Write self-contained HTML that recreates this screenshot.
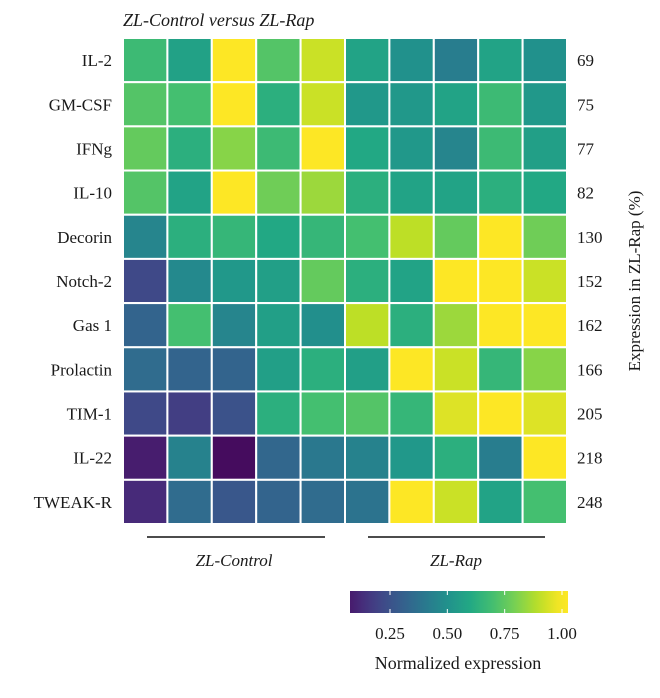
<!DOCTYPE html>
<html><head><meta charset="utf-8"><style>
body{margin:0;background:#fff;}
svg text{font-family:"Liberation Serif",serif;fill:#1a1a1a;}
</style></head><body>
<svg id="chart" width="660" height="693">
<defs><linearGradient id="vg" x1="0" x2="1" y1="0" y2="0"></linearGradient></defs>
<text x="123" y="26" font-size="18" font-style="italic">ZL-Control versus ZL-Rap</text>
<g id="cells"></g>
<g id="rowlabels"></g>
<g id="pctlabels"></g>
<text transform="translate(640,281) rotate(-90)" text-anchor="middle" font-size="17">Expression in ZL-Rap (%)</text>
<line x1="147" x2="325" y1="537" y2="537" stroke="#111" stroke-width="1.5"/>
<line x1="368" x2="545" y1="537" y2="537" stroke="#111" stroke-width="1.5"/>
<text x="234" y="566" text-anchor="middle" font-size="17" font-style="italic">ZL-Control</text>
<text x="456" y="566" text-anchor="middle" font-size="17" font-style="italic">ZL-Rap</text>
<rect x="350" y="591" width="218" height="22" fill="url(#vg)"/>
<g id="cbticks"></g>
<text x="458" y="669" text-anchor="middle" font-size="18">Normalized expression</text>
</svg>
<script>
const genes = ["IL-2","GM-CSF","IFNg","IL-10","Decorin","Notch-2","Gas 1","Prolactin","TIM-1","IL-22","TWEAK-R"];
const percents = [69,75,77,82,130,152,162,166,205,218,248];
const values = [
[0.68,0.57,1.00,0.73,0.92,0.58,0.50,0.42,0.58,0.50],
[0.73,0.70,1.00,0.63,0.92,0.53,0.53,0.58,0.68,0.53],
[0.76,0.63,0.82,0.68,1.00,0.60,0.53,0.45,0.68,0.56],
[0.73,0.58,1.00,0.78,0.85,0.63,0.58,0.58,0.63,0.60],
[0.45,0.63,0.66,0.60,0.66,0.70,0.90,0.76,1.00,0.78],
[0.22,0.47,0.53,0.56,0.76,0.63,0.58,1.00,1.00,0.92],
[0.32,0.70,0.45,0.56,0.49,0.90,0.63,0.85,1.00,1.00],
[0.35,0.32,0.32,0.56,0.63,0.56,1.00,0.92,0.66,0.82],
[0.22,0.18,0.25,0.63,0.70,0.73,0.66,0.95,1.00,0.95],
[0.08,0.44,0.03,0.33,0.40,0.44,0.53,0.63,0.42,1.00],
[0.12,0.35,0.27,0.32,0.35,0.38,1.00,0.92,0.58,0.70]];
const cbTicks = [0.25,0.50,0.75,1.00];
const cbTickLabels = ["0.25","0.50","0.75","1.00"];

const NS="http://www.w3.org/2000/svg";
const vir=[[68,1,84],[72,36,117],[65,68,135],[53,95,141],[42,120,142],[33,145,140],[34,168,132],[68,191,112],[122,209,81],[189,223,38],[253,231,37]];
function viridis(t){t=Math.max(0,Math.min(1,t));const p=t*(vir.length-1),i=Math.min(vir.length-2,Math.floor(p)),f=p-i;
const c=vir[i].map((v,k)=>Math.round(v+(vir[i+1][k]-v)*f));return `rgb(${c})`;}
const x0=123,x1=567,y0=38,y1=524;
const cw=(x1-x0)/10, rh=(y1-y0)/genes.length;
const xS=j=>x0+j*cw, yS=i=>y0+i*rh;
const cbX=v=>390+(v-0.25)/0.75*172;
const cells=document.getElementById('cells');
values.forEach((row,i)=>row.forEach((v,j)=>{
 const r=document.createElementNS(NS,'rect');
 r.setAttribute('x',xS(j));r.setAttribute('y',yS(i));r.setAttribute('width',cw);r.setAttribute('height',rh);
 r.setAttribute('fill',viridis(v));r.setAttribute('stroke','#fff');r.setAttribute('stroke-width','2');
 
 
 cells.appendChild(r);
}));
genes.forEach((g,i)=>{
 const t=document.createElementNS(NS,'text');
 t.setAttribute('x',112);t.setAttribute('y',yS(i)+rh/2+6);t.setAttribute('text-anchor','end');t.setAttribute('font-size','17');
 t.textContent=g;
 
 
 document.getElementById('rowlabels').appendChild(t);
 const p=document.createElementNS(NS,'text');
 p.setAttribute('x',577);p.setAttribute('y',yS(i)+rh/2+6);p.setAttribute('font-size','17');
 p.textContent=percents[i];
 
 
 document.getElementById('pctlabels').appendChild(p);
});
const lo=(350-390)/172*0.75+0.25, hi=(568-390)/172*0.75+0.25;
const grad=document.getElementById('vg');
for(let k=0;k<=20;k++){const s=document.createElementNS(NS,'stop');s.setAttribute('offset',k/20);s.setAttribute('stop-color',viridis(lo+(hi-lo)*k/20));grad.appendChild(s);}
const cb=document.getElementById('cbticks');
cbTicks.forEach((v,k)=>{
 const x=cbX(v);
 [[591,595],[609,613]].forEach(([a,b])=>{const l=document.createElementNS(NS,'line');l.setAttribute('x1',x);l.setAttribute('x2',x);l.setAttribute('y1',a);l.setAttribute('y2',b);l.setAttribute('stroke','#fff');
 
 
 cb.appendChild(l);});
 const t=document.createElementNS(NS,'text');t.setAttribute('x',x);t.setAttribute('y',639);t.setAttribute('text-anchor','middle');t.setAttribute('font-size','17');
 t.textContent=cbTickLabels[k];
 
 
 cb.appendChild(t);
});
</script>
</body></html>
